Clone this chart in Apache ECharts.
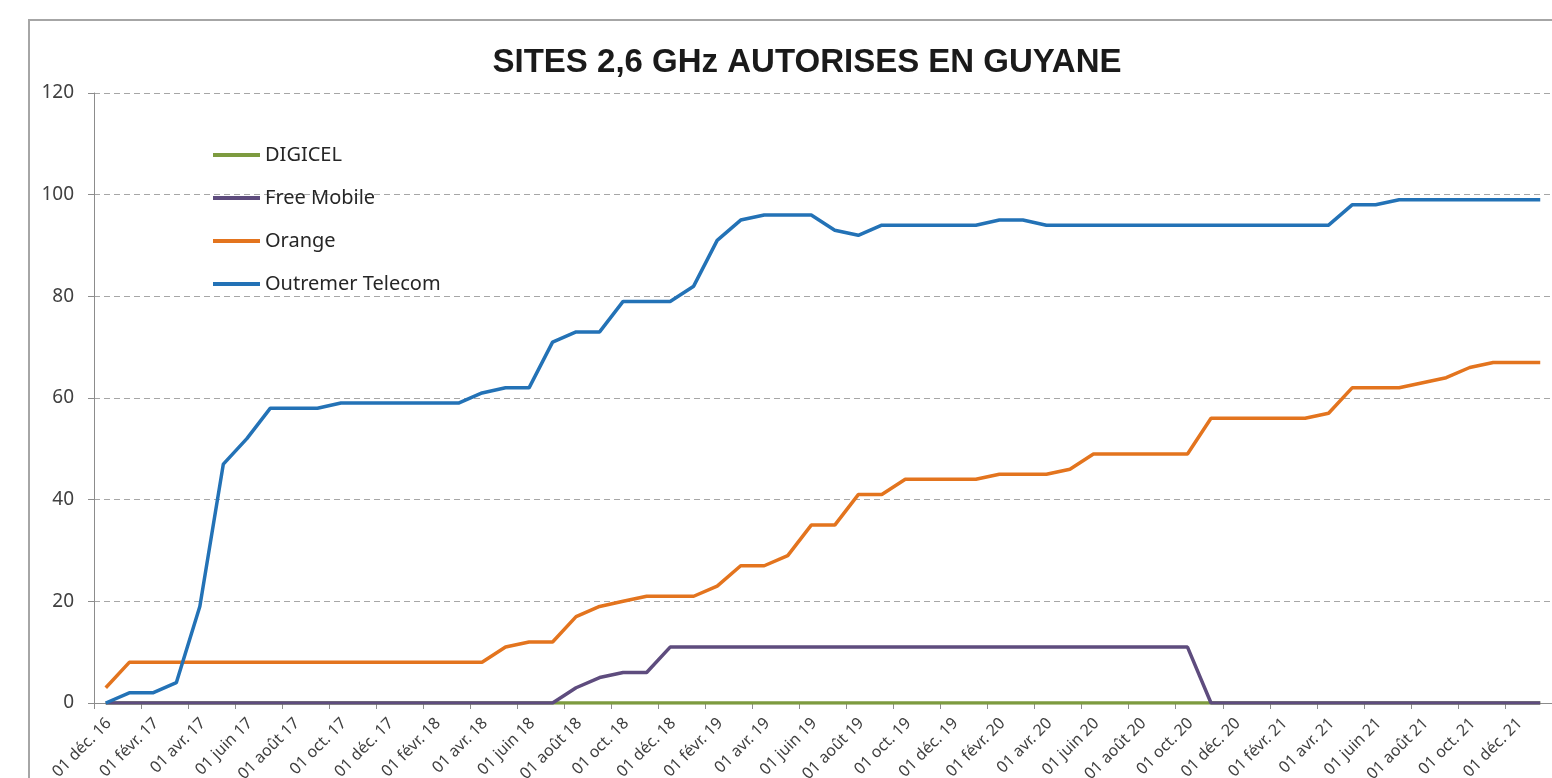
<!DOCTYPE html>
<html>
<head>
<meta charset="utf-8">
<title>Sites 2,6 GHz autorisés en Guyane</title>
<script src="https://cdn.jsdelivr.net/npm/echarts@6/dist/echarts.min.js"></script>
<style>
  html, body { margin: 0; padding: 0; background: #fff; }
  #chart { width: 1552px; height: 778px; }
</style>
</head>
<body>
<div id="chart"></div>
<script>
  // début de chaque mois, de déc. 2016 à févr. 2022 (bords de l'axe)
  const monthNames = ['janv.', 'févr.', 'mars', 'avr.', 'mai', 'juin', 'juil.', 'août', 'sept.', 'oct.', 'nov.', 'déc.'];
  const months = [];
  for (let m = 11; m <= 11 + 62; m++) {
    const y = 16 + Math.floor(m / 12);
    months.push('01 ' + monthNames[m % 12] + ' ' + y);
  }

  // une valeur par mois, de déc. 2016 à janv. 2022
  const digicel = [
    0, 0, 0, 0, 0, 0, 0, 0, 0, 0, 0, 0, 0, 0, 0, 0, 0, 0, 0, 0,
    0, 0, 0, 0, 0, 0, 0, 0, 0, 0, 0, 0, 0, 0, 0, 0, 0, 0, 0, 0,
    0, 0, 0, 0, 0, 0, 0, 0, 0, 0, 0, 0, 0, 0, 0, 0, 0, 0, 0, 0,
    0, 0
  ];
  const freeMobile = [
    0, 0, 0, 0, 0, 0, 0, 0, 0, 0, 0, 0, 0, 0, 0, 0, 0, 0, 0, 0,
    3, 5, 6, 6, 11, 11, 11, 11, 11, 11, 11, 11, 11, 11, 11, 11, 11, 11, 11, 11,
    11, 11, 11, 11, 11, 11, 11, 0, 0, 0, 0, 0, 0, 0, 0, 0, 0, 0, 0, 0,
    0, 0
  ];
  const orange = [
    3, 8, 8, 8, 8, 8, 8, 8, 8, 8, 8, 8, 8, 8, 8, 8, 8, 11, 12, 12,
    17, 19, 20, 21, 21, 21, 23, 27, 27, 29, 35, 35, 41, 41, 44, 44, 44, 44, 45, 45,
    45, 46, 49, 49, 49, 49, 49, 56, 56, 56, 56, 56, 57, 62, 62, 62, 63, 64, 66, 67,
    67, 67
  ];
  const outremer = [
    0, 2, 2, 4, 19, 47, 52, 58, 58, 58, 59, 59, 59, 59, 59, 59, 61, 62, 62, 71,
    73, 73, 79, 79, 79, 82, 91, 95, 96, 96, 96, 93, 92, 94, 94, 94, 94, 94, 95, 95,
    94, 94, 94, 94, 94, 94, 94, 94, 94, 94, 94, 94, 94, 98, 98, 99, 99, 99, 99, 99,
    99, 99
  ];

  const seriesNames = ['DIGICEL', 'Free Mobile', 'Orange', 'Outremer Telecom'];
  const seriesData = [digicel, freeMobile, orange, outremer];
  const colors = ['#7d9b3f', '#5e4c7e', '#e3741e', '#2372b6'];

  const chart = echarts.init(document.getElementById('chart'));

  // chaque valeur est placée au milieu de son mois
  const toPoints = arr => arr.map((v, i) => [i + 0.5, v]);

  chart.setOption({
    animation: false,
    backgroundColor: '#fff',
    textStyle: { fontFamily: 'Noto Sans' },
    title: {
      text: 'SITES 2,6 GHz AUTORISES EN GUYANE',
      left: 802,
      top: 41,
      textAlign: 'center',
      textStyle: {
        fontFamily: 'Liberation Sans',
        fontSize: 33,
        fontWeight: 'bold',
        color: '#1a1a1a'
      }
    },
    graphic: [{
      type: 'rect',
      shape: { x: 29, y: 20, width: 1600, height: 900 },
      style: { fill: 'none', stroke: '#a6a6a6', lineWidth: 2 },
      silent: true,
      z: -1
    }],
    legend: {
      orient: 'vertical',
      left: 208,
      top: 140,
      itemGap: 23,
      itemWidth: 47,
      itemHeight: 4,
      icon: 'rect',
      data: seriesNames,
      textStyle: { fontSize: 20, lineHeight: 20, color: '#262626' }
    },
    grid: {
      left: 94,
      right: 0,
      top: 93,
      bottom: 75,
      outerBoundsMode: 'none'
    },
    xAxis: [{
      // axe des données : un mois = 1
      type: 'value',
      position: 'bottom',
      min: 0,
      max: 62,
      interval: 2,
      splitLine: { show: false },
      axisLine: { lineStyle: { color: '#8c8c8c', width: 1 } },
      axisTick: { show: true, length: 6, lineStyle: { color: '#8c8c8c' } },
      axisLabel: { show: false }
    }, {
      // axe des libellés de dates, un tous les deux mois
      type: 'category',
      position: 'bottom',
      boundaryGap: false,
      data: months,
      axisLine: { show: false },
      axisTick: { show: false },
      splitLine: { show: false },
      axisLabel: {
        interval: 0,
        rotate: 45,
        margin: 3,
        fontSize: 16,
        color: '#404040',
        verticalAlign: 'top',
        lineHeight: 42,
        formatter: (v, i) => (i % 2 === 0 && i < months.length - 1) ? v : ''
      }
    }],
    yAxis: {
      type: 'value',
      min: 0,
      max: 120,
      interval: 20,
      axisLine: { show: true, lineStyle: { color: '#8c8c8c' } },
      axisTick: { show: true, length: 6, lineStyle: { color: '#8c8c8c' } },
      axisLabel: { fontSize: 19, color: '#404040', margin: 20 },
      splitLine: {
        lineStyle: { color: '#a6a6a6', type: [6, 4], width: 1 }
      }
    },
    series: seriesNames.map((name, k) => ({
      name: name,
      type: 'line',
      xAxisIndex: 0,
      data: toPoints(seriesData[k]),
      showSymbol: false,
      symbol: 'none',
      color: colors[k],
      lineStyle: { width: 3.5, color: colors[k] }
    }))
  });
</script>
</body>
</html>
